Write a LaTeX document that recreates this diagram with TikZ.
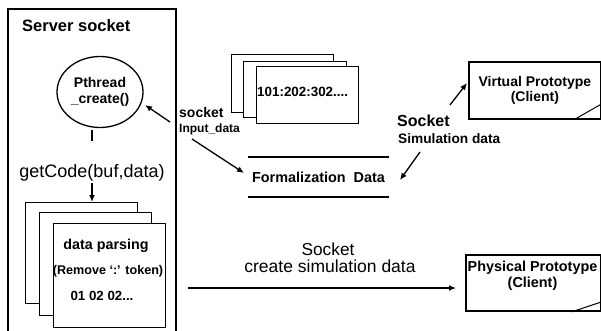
\documentclass[tikz,border=0pt]{standalone}
\usepackage{fontspec}
\setmainfont{Liberation Sans}
\usetikzlibrary{shapes.geometric,arrows.meta}
\begin{document}
\begin{tikzpicture}[x=1pt,y=-1pt,
  arr/.style={line width=1.3pt,-{Latex[length=7pt,width=6pt]}},
  page/.style={draw,fill=white,line width=0.8pt,minimum width=112pt,anchor=north west,inner sep=0},
  mpage/.style={draw,fill=white,line width=0.8pt,minimum width=102pt,anchor=north west,inner sep=0},
  lbl/.style={inner sep=0,anchor=base},
  lblw/.style={inner sep=0,anchor=base west},
  proto/.style={draw,line width=1.8pt,anchor=north west,inner sep=0},
  fb/.style={font=\fontsize{#1}{#1}\selectfont\bfseries},
  fr/.style={font=\fontsize{#1}{#1}\selectfont},
  ]
\useasboundingbox (0,0) rectangle (601,331);
% server socket frame
\draw[line width=1.8pt] (8,333) -- (8,9) -- (176,9) -- (176,333);
\node[lblw,fb=16.5] (title) at (22,32) {Server socket};
% pthread
\node[ellipse,draw,line width=1.3pt,minimum width=86pt,minimum height=71pt,inner sep=0,align=center,
      font=\fontsize{14}{16}\selectfont\bfseries] (pc) at (100,92) {Pthread\\\_create()};
\coordinate (tickA) at (92,130);
\coordinate (tickB) at (92,141);
\draw[line width=1.3pt] (tickA) -- (tickB);
\node[lbl,fr=18] (gc) at (92,177) {getCode(buf,data)};
% stack in server
\node[page,minimum height=101pt] (p1) at (25,202) {};
\node[page,minimum height=103pt] (p2) at (39,212) {};
\node[page,minimum height=104pt] (p3) at (53,223) {};
\coordinate (gcA) at (92,183);
\coordinate (gcB) at (92,202);
\draw[arr] (gcA) -- (gcB);
\node[lbl,fb=14.3] (dp) at (106,249) {data parsing};
\node[lbl,fb=12.6] (rm) at (108,274) {(Remove `:' token)};
\node[lbl,fb=13.3] (nums) at (102,300) {01 02 02...};
% middle stack
\node[mpage,minimum height=58pt] (m1) at (231,54) {};
\node[mpage,minimum width=103pt,minimum height=56pt] (m2) at (243,61) {};
\node[mpage,minimum height=57pt] (m3) at (256,66) {};
\node[lblw,fb=13.4] (codes) at (257,97) {101:202:302....};
% formalization data
\node[inner sep=0,minimum width=141pt,minimum height=40pt,fb=14.4] (fd) at (318.5,177) {Formalization\ \ Data};
\draw[line width=1.8pt] (fd.north west) -- (fd.north east);
\draw[line width=1.8pt] (fd.south west) -- (fd.south east);
% socket input_data
\node[lblw,fb=14] (sk) at (179,118) {socket};
\node[lblw,fb=12] (ind) at (179,133) {Input\_data};
\coordinate (a1t) at (170,122);
\coordinate (a1h) at (145,105);
\draw[arr] (a1t) -- (a1h);
\coordinate (a2t) at (192,139);
\coordinate (a2h) at (244,173);
\draw[arr] (a2t) -- (a2h);
% simulation data
\node[lblw,fb=16] (sk2) at (397,127) {Socket};
\node[lblw,fb=13.7] (sim) at (398,143) {Simulation data};
\coordinate (a3t) at (450,105);
\coordinate (a3h) at (467,83);
\draw[arr] (a3t) -- (a3h);
\coordinate (a4t) at (420,152);
\coordinate (a4h) at (400,180);
\draw[arr] (a4t) -- (a4h);
% virtual prototype
\node[proto,minimum width=132pt,minimum height=57pt,align=center,font=\fontsize{14}{15}\selectfont\bfseries] (vp) at (468,61) {Virtual Prototype\\(Client)};
\draw[line width=1pt] ([xshift=-28pt]vp.south east) -- ([yshift=16pt]vp.south east);
% physical prototype
\node[proto,minimum width=135pt,minimum height=56pt] (pp) at (465,254) {};
\node[inner sep=0,align=center,font=\fontsize{14.4}{16}\selectfont\bfseries] (ppt) at (532.5,276) {Physical Prototype\\(Client)};
\draw[line width=1pt] ([xshift=-30pt]pp.south east) -- ([yshift=10pt]pp.south east);
% bottom arrow
\node[lbl,fr=17.3] (sk3) at (328,255) {Socket};
\node[lbl,fr=17.5] (csd) at (330,272) {create simulation data};
\coordinate (a5t) at (188,288);
\coordinate (a5h) at (456,288);
\draw[arr] (a5t) -- (a5h);
\end{tikzpicture}
\end{document}
